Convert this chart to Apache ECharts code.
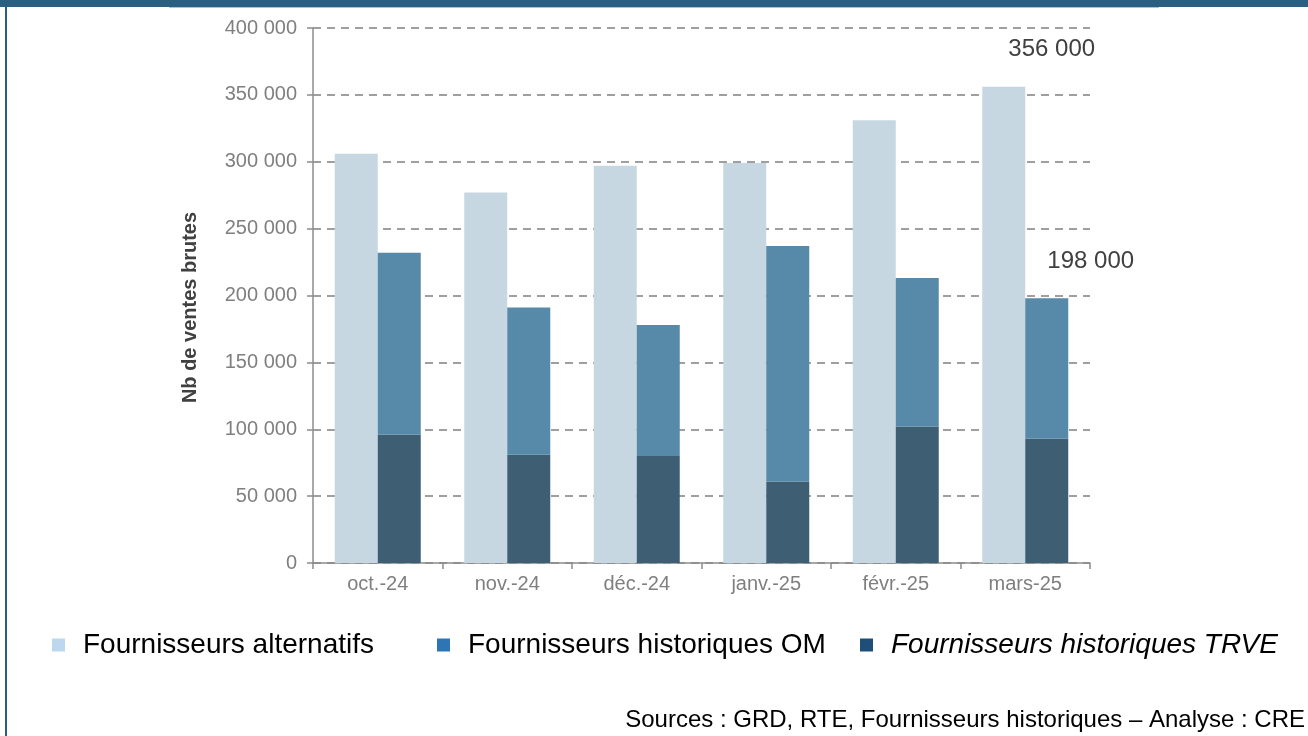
<!DOCTYPE html>
<html>
<head>
<meta charset="utf-8">
<script src="https://cdn.jsdelivr.net/npm/echarts@6/dist/echarts.min.js"></script>
<style>
  html, body { margin: 0; padding: 0; background: #fff; }
  #chart { width: 1308px; height: 736px; }
</style>
</head>
<body>
<div id="chart"></div>
<script>
// données
const mois = ['oct.-24', 'nov.-24', 'déc.-24', 'janv.-25', 'févr.-25', 'mars-25'];
const alternatifs = [306000, 277000, 297000, 299000, 331000, 356000];
const historiquesOM = [136000, 110000, 98000, 176000, 111000, 105000];
const historiquesTRVE = [96000, 81000, 80000, 61000, 102000, 93000];
const yTicks = [0, 50000, 100000, 150000, 200000, 250000, 300000, 350000, 400000];

const fmt = v => String(v).replace(/\B(?=(\d{3})+(?!\d))/g, ' ');
const font = '"Liberation Sans", Arial, sans-serif';

const chart = echarts.init(document.getElementById('chart'));

const legendBase = {
  top: 626,
  icon: 'rect',
  itemWidth: 13,
  itemHeight: 13,
  selectedMode: false,
  textStyle: { fontFamily: font, fontSize: 28, color: '#000', padding: [0, 0, 0, 13] }
};

const option = {
  animation: false,
  textStyle: { fontFamily: font },
  grid: { left: 313, right: 218, top: 28, bottom: 173 },
  legend: [
    Object.assign({}, legendBase, { left: 47, data: [{ name: 'Fournisseurs alternatifs', itemStyle: { color: '#BDD7EE' } }] }),
    Object.assign({}, legendBase, { left: 432, data: [{ name: 'Fournisseurs historiques OM', itemStyle: { color: '#2E75B6' } }] }),
    Object.assign({}, legendBase, { left: 855, data: [{ name: 'Fournisseurs historiques TRVE', itemStyle: { color: '#1F4E79' }, textStyle: { fontStyle: 'italic' } }] })
  ],
  xAxis: {
    type: 'category',
    data: mois,
    axisLine: { lineStyle: { color: '#8c8c8c', width: 1.5 } },
    axisTick: { show: true, length: 6, alignWithLabel: false, lineStyle: { color: '#8c8c8c', width: 1.5 } },
    axisLabel: { color: '#7f7f7f', fontSize: 20, margin: 11, fontFamily: font }
  },
  yAxis: {
    type: 'value',
    min: 0,
    max: 400000,
    interval: 50000,
    name: 'Nb de ventes brutes',
    nameLocation: 'middle',
    nameGap: 113,
    nameTextStyle: { color: '#404040', fontSize: 20, fontWeight: 'bold', fontFamily: font, padding: [0, 24, 0, 0] },
    axisLine: { show: true, lineStyle: { color: '#8c8c8c', width: 1.5 } },
    axisTick: { show: true, length: 6, lineStyle: { color: '#8c8c8c', width: 1.5 } },
    axisLabel: {
      color: '#7f7f7f', fontSize: 20, margin: 16, fontFamily: font,
      formatter: v => yTicks.includes(v) ? fmt(v) : ''
    },
    splitLine: { lineStyle: { color: '#808080', width: 1.5, type: [8, 6] } }
  },
  series: [
    {
      name: 'Fournisseurs alternatifs',
      type: 'bar',
      stack: 'alt',
      barWidth: 43,
      barGap: '0%',
      itemStyle: { color: '#C6D7E2' },
      data: alternatifs.map((v, i) => i === alternatifs.length - 1 ? {
        value: v,
        label: { show: true, position: 'top', offset: [48, -20], formatter: p => fmt(p.value), fontSize: 24, color: '#404040', fontFamily: font }
      } : v)
    },
    {
      name: 'Fournisseurs historiques TRVE',
      type: 'bar',
      stack: 'hist',
      barWidth: 43,
      itemStyle: { color: '#3E5E74' },
      data: historiquesTRVE
    },
    {
      name: 'Fournisseurs historiques OM',
      type: 'bar',
      stack: 'hist',
      barWidth: 43,
      itemStyle: { color: '#5789A9' },
      data: historiquesOM.map((v, i) => i === historiquesOM.length - 1 ? {
        value: v,
        label: {
          show: true, position: 'top', offset: [44, -20], fontSize: 24, color: '#404040', fontFamily: font,
          formatter: () => fmt(historiquesOM[i] + historiquesTRVE[i])
        }
      } : v)
    }
  ],
  graphic: [
    { type: 'rect', left: 0, top: 0, shape: { width: 1308, height: 7 }, style: { fill: '#2A5F82' } },
    { type: 'rect', left: 169, top: 7, shape: { width: 990, height: 1 }, style: { fill: '#A9C4D6' } },
    { type: 'rect', left: 5, top: 0, shape: { width: 2, height: 736 }, style: { fill: '#2A5F82' } },
    {
      type: 'text', right: 3, top: 708,
      style: { text: 'Sources : GRD, RTE, Fournisseurs historiques – Analyse : CRE', font: '24px ' + font, fill: '#000' }
    }
  ]
};

chart.setOption(option);
</script>
</body>
</html>
